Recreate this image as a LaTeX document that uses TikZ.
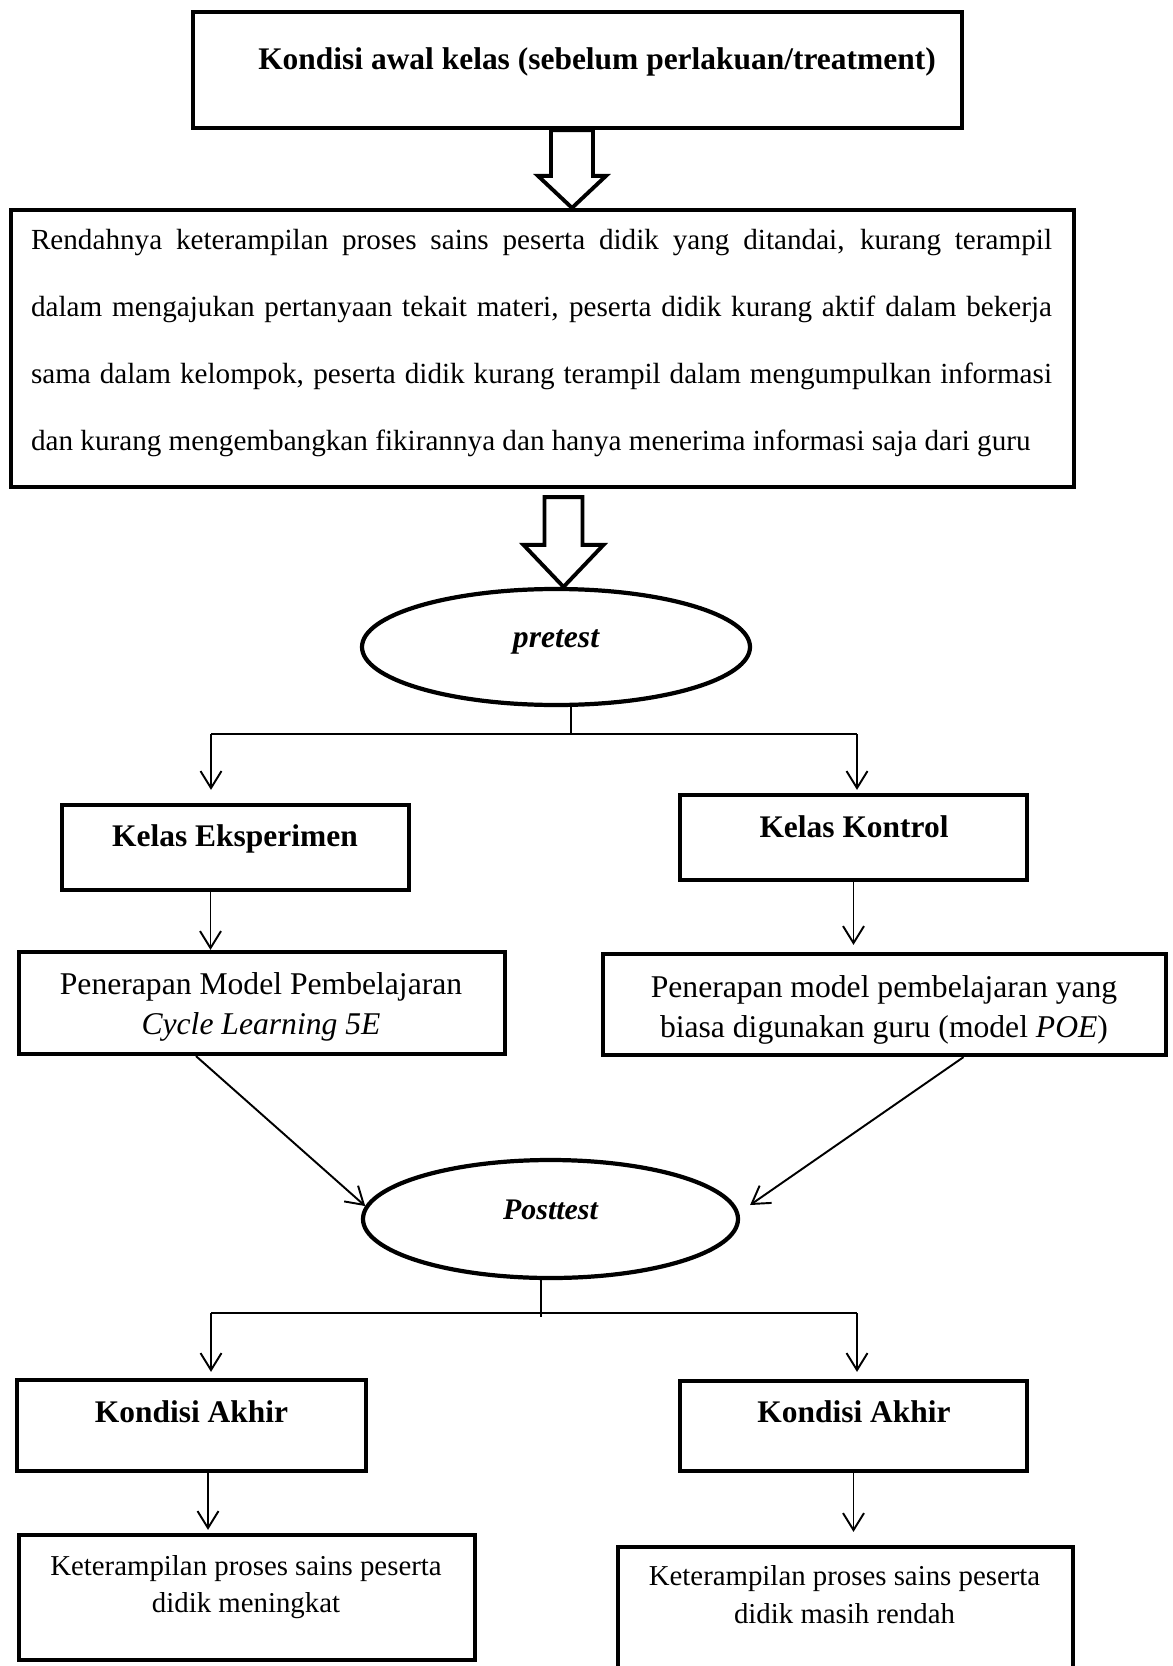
\documentclass[tikz,border=0pt]{standalone}
\usepackage{fontspec}
\setmainfont{Liberation Serif}
\usetikzlibrary{arrows.meta,calc,shapes.geometric}

\newcommand{\hollowarrow}[5]{%
  \draw[hollow] let \p1=(#1), \p2=(#2) in
    (\x1-#3,\y1) -- (\x1-#3,\y2+#5) -- (\x1-#4,\y2+#5) -- (\x1,\y2)
    -- (\x1+#4,\y2+#5) -- (\x1+#3,\y2+#5) -- (\x1+#3,\y1) -- cycle;}

\begin{document}
\begin{tikzpicture}[
    box/.style={draw, line width=2.4pt, inner sep=0pt},
    oval/.style={draw, ellipse, line width=2.4pt, inner sep=0pt, text height=0.66em, text depth=0.55em},
    head/.style={font=\fontsize{17.9}{21}\selectfont\bfseries, inner sep=0pt, text height=0.7em, text depth=0.25em},
    txt/.style={align=center, inner sep=0pt, font=\fontsize{18}{23.2}\selectfont},
    small/.style={align=center, inner sep=0pt, font=\fontsize{16.4}{21.5}\selectfont},
    line/.style={line width=1.1pt},
    arr/.style={line width=1.1pt, -{Straight Barb[length=0.34cm,width=0.42cm]}},
    hollow/.style={line width=2.2pt, line join=miter}
  ]
    \useasboundingbox (0,0) rectangle (23.44,-33.32);
    \clip (0,0) rectangle (23.44,-33.32);

    %boxes
    \node[box, minimum width=15.38cm, minimum height=2.32cm] (start) at (11.55,-1.40) {};
    \node[box, minimum width=21.26cm, minimum height=5.54cm] (prob) at (10.85,-6.97) {};
    \node[oval, minimum width=7.76cm, minimum height=2.32cm, font=\fontsize{18}{22}\selectfont\bfseries\itshape] (pre) at (11.12,-12.94) {pretest};
    \node[box, minimum width=6.94cm, minimum height=1.70cm] (eks) at (4.71,-16.95) {};
    \node[box, minimum width=6.94cm, minimum height=1.70cm] (kon) at (17.07,-16.75) {};
    \node[box, minimum width=9.72cm, minimum height=2.04cm] (eksmod) at (5.24,-20.06) {};
    \node[box, minimum width=11.26cm, minimum height=2.02cm] (konmod) at (17.69,-20.09) {};
    \node[oval, minimum width=7.50cm, minimum height=2.36cm, font=\fontsize{17}{20}\selectfont\bfseries\itshape] (post) at (11.01,-24.38) {Posttest};
    \node[box, minimum width=6.98cm, minimum height=1.82cm] (akhirA) at (3.83,-28.51) {};
    \node[box, minimum width=6.94cm, minimum height=1.80cm] (akhirB) at (17.07,-28.52) {};
    \node[box, minimum width=9.12cm, minimum height=2.50cm] (hasilA) at (4.94,-31.95) {};
    \node[box, minimum width=9.10cm, minimum height=2.86cm] (hasilB) at (16.91,-32.37) {};

    %texts
    \node[head] (start-t) at (11.94,-1.32) {Kondisi awal kelas (sebelum perlakuan/treatment)};
    \node[txt, text width=20.42cm, align=justify, font=\fontsize{16.6}{38}\selectfont] (prob-t) at (10.83,-6.86)
      {Rendahnya keterampilan proses sains peserta didik yang ditandai, kurang terampil\linebreak
       dalam mengajukan pertanyaan tekait materi, peserta didik kurang aktif dalam bekerja\linebreak
       sama dalam kelompok, peserta didik kurang terampil dalam mengumpulkan informasi\linebreak
       dan kurang mengembangkan fikirannya dan hanya menerima informasi saja dari guru};
    \node[head] (eks-t) at (4.70,-16.86) {Kelas Eksperimen};
    \node[head] (kon-t) at (17.08,-16.68) {Kelas Kontrol};
    \node[txt] (eksmod-t) at (5.22,-20.14) {Penerapan Model Pembelajaran\\\textit{Cycle Learning 5E}};
    \node[txt] (konmod-t) at (17.68,-20.20) {Penerapan model pembelajaran yang\\biasa digunakan guru (model \textit{POE})};
    \node[head] (akhirA-t) at (3.83,-28.38) {Kondisi Akhir};
    \node[head] (akhirB-t) at (17.08,-28.38) {Kondisi Akhir};
    \node[small] (hasilA-t) at (4.92,-31.74) {Keterampilan proses sains peserta\\didik meningkat};
    \node[small] (hasilB-t) at (16.89,-31.90) {Keterampilan proses sains peserta\\didik masih rendah};

    %big arrows
    \hollowarrow{$(start.south)+(-0.11,0)$}{prob.north}{0.42cm}{0.68cm}{0.64cm}
    \hollowarrow{$(prob.south)+(0.42,-0.16)$}{pre.north}{0.38cm}{0.80cm}{0.84cm}

    %pretest fork
    \coordinate (preF) at (11.42,-14.68);
    \coordinate (preL) at (4.22,-14.68);
    \coordinate (preR) at (17.14,-14.68);
    \draw[line] (pre.south -| preF) -- (preF);
    \draw[line] (preL) -- (preR);
    \draw[arr, shorten >=0.26cm] (preL) -- (preL |- eks.north);
    \draw[arr, shorten >=0.06cm] (preR) -- (preR |- kon.north);

    %classes to models
    \coordinate (eksB) at ([xshift=-0.5cm]eks.south);
    \draw[arr] (eksB) -- (eksB |- eksmod.north);
    \draw[arr, shorten >=0.14cm] (kon.south) -- (kon.south |- konmod.north);

    %models to posttest
    \draw[arr] ([xshift=-1.32cm]eksmod.south) -- (post.176);
    \draw[arr] ([xshift=1.58cm]konmod.south) -- ($(post.east)+(0.2,0.28)$);

    %posttest fork
    \coordinate (postF) at (10.82,-26.26);
    \coordinate (postL) at (4.22,-26.26);
    \coordinate (postR) at (17.14,-26.26);
    \draw[line] (post.south -| postF) -- ([yshift=-0.08cm]postF);
    \draw[line] (postL) -- (postR);
    \draw[arr, shorten >=0.12cm] (postL) -- (postL |- akhirA.north);
    \draw[arr, shorten >=0.14cm] (postR) -- (postR |- akhirB.north);

    %final conditions
    \coordinate (akhirAB) at ([xshift=0.33cm]akhirA.south);
    \draw[arr, shorten >=0.06cm] (akhirAB) -- (akhirAB |- hasilA.north);
    \draw[arr, shorten >=0.26cm] (akhirB.south) -- (akhirB.south |- hasilB.north);
\end{tikzpicture}
\end{document}
